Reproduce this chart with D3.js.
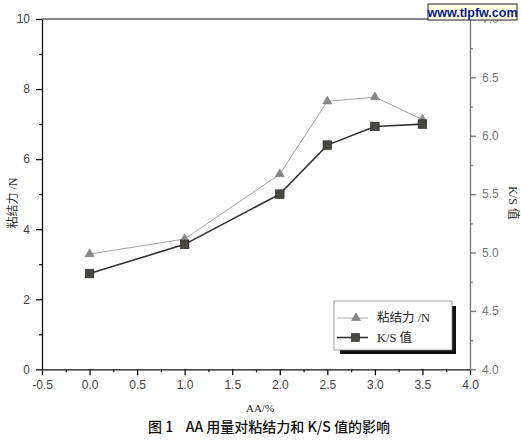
<!DOCTYPE html>
<html><head><meta charset="utf-8">
<script src="https://cdn.jsdelivr.net/npm/d3@7"></script>
<style>
html,body{margin:0;padding:0;background:#fff;}
svg{display:block;}
</style></head>
<body>
<svg id="c" width="521" height="444"></svg>
<script>
const AA = [0, 1, 2, 2.5, 3, 3.5];
const adhesion = [3.29, 3.72, 5.57, 7.65, 7.77, 7.13];
const ksValue = [4.82, 5.07, 5.50, 5.92, 6.08, 6.10];
const xTicks = [-0.5, 0, 0.5, 1, 1.5, 2, 2.5, 3, 3.5, 4];
const yLeftTicks = [0, 2, 4, 6, 8, 10];
const yRightTicks = [4.0, 4.5, 5.0, 5.5, 6.0, 6.5, 7.0];
const seriesNames = ["粘结力 /N", "K/S 值"];

const svg = d3.select("#c");
const L = 42, R = 470, T = 19, B = 369.3;
const x = d3.scaleLinear().domain([-0.5, 4]).range([L, R]);
const yL = d3.scaleLinear().domain([0, 10]).range([B, T]);
const yR = d3.scaleLinear().domain([4, 7]).range([B, T]);
const sans = "'Liberation Sans', Arial, sans-serif";
const serif = "'Liberation Serif', 'Noto Sans CJK SC', serif";
const fmt1 = d => d.toFixed(1);

// top frame line
svg.append("line").attr("x1", L).attr("x2", R).attr("y1", T).attr("y2", T)
  .attr("stroke", "#111").attr("stroke-width", 1.2);

function styleAxis(g, color, labelColor) {
  g.select(".domain").attr("stroke", color).attr("stroke-width", 1.3);
  g.selectAll(".tick line").attr("stroke", color).attr("stroke-width", 1.3);
  g.selectAll(".tick text").attr("fill", labelColor).attr("font-family", sans).attr("font-size", 12);
}

// bottom axis
const gx = svg.append("g").attr("transform", `translate(0,${B})`)
  .call(d3.axisBottom(x).tickValues(xTicks).tickFormat(fmt1).tickSize(6).tickSizeOuter(0).tickPadding(5));
styleAxis(gx, "#111", "#444");
svg.append("g").attr("transform", `translate(0,${B})`)
  .call(d3.axisBottom(x).tickValues(d3.range(-0.25, 4, 0.5)).tickFormat("").tickSize(3).tickSizeOuter(0))
  .call(g => { g.select(".domain").remove(); g.selectAll("line").attr("stroke", "#111").attr("stroke-width", 1.2); });

// left axis
const gyl = svg.append("g").attr("transform", `translate(${L},0)`)
  .call(d3.axisLeft(yL).tickValues(yLeftTicks).tickSize(6).tickSizeOuter(0).tickPadding(6));
styleAxis(gyl, "#111", "#444");
svg.append("g").attr("transform", `translate(${L},0)`)
  .call(d3.axisLeft(yL).tickValues([1, 3, 5, 7, 9]).tickFormat("").tickSize(3).tickSizeOuter(0))
  .call(g => { g.select(".domain").remove(); g.selectAll("line").attr("stroke", "#111").attr("stroke-width", 1.2); });

// right axis
const gyr = svg.append("g").attr("transform", `translate(${R},0)`)
  .call(d3.axisRight(yR).tickValues(yRightTicks).tickFormat(fmt1).tickSize(6).tickSizeOuter(0).tickPadding(6));
styleAxis(gyr, "#777", "#777");
svg.append("g").attr("transform", `translate(${R},0)`)
  .call(d3.axisRight(yR).tickValues([4.25, 4.75, 5.25, 5.75, 6.25, 6.75]).tickFormat("").tickSize(3).tickSizeOuter(0))
  .call(g => { g.select(".domain").remove(); g.selectAll("line").attr("stroke", "#777").attr("stroke-width", 1.2); });

// axis titles
svg.append("text").attr("transform", `translate(13,203) rotate(-90)`)
  .attr("text-anchor", "middle").attr("dominant-baseline", "central")
  .attr("font-family", serif).attr("font-size", 12).attr("fill", "#333").text("粘结力 /N");
svg.append("text").attr("transform", `translate(513,203) rotate(90)`)
  .attr("text-anchor", "middle").attr("dominant-baseline", "central")
  .attr("font-family", serif).attr("font-size", 12).attr("fill", "#333").text("K/S 值");
svg.append("text").attr("x", 260).attr("y", 412).attr("text-anchor", "middle")
  .attr("font-family", serif).attr("font-size", 11).attr("fill", "#222").text("AA/%");
svg.append("text").attr("x", 269).attr("y", 432).attr("text-anchor", "middle")
  .attr("font-family", "'Noto Sans CJK SC', sans-serif").attr("font-size", 14).attr("font-weight", 500)
  .attr("fill", "#111").attr("xml:space", "preserve").text("图 1    AA 用量对粘结力和 K/S 值的影响");

// series lines
const ptsA = AA.map((a, i) => [x(a), yL(adhesion[i])]);
const ptsK = AA.map((a, i) => [x(a), yR(ksValue[i])]);
svg.append("path").attr("d", d3.line()(ptsA)).attr("fill", "none").attr("stroke", "#999").attr("stroke-width", 0.9);
svg.append("path").attr("d", d3.line()(ptsK)).attr("fill", "none").attr("stroke", "#333").attr("stroke-width", 1.6);

const tri = d3.symbol().type(d3.symbolTriangle).size(36);
svg.selectAll(".tri").data(ptsA).join("path").attr("class", "tri")
  .attr("transform", d => `translate(${d[0]},${d[1]})`).attr("d", tri())
  .attr("fill", "#888").attr("stroke", "#777").attr("stroke-width", 0.5);
svg.selectAll(".sq").data(ptsK).join("rect").attr("class", "sq")
  .attr("x", d => d[0] - 4.3).attr("y", d => d[1] - 4.3).attr("width", 8.6).attr("height", 8.6)
  .attr("fill", "#4a4743").attr("stroke", "#222").attr("stroke-width", 0.6);

// legend
const lg = svg.append("g");
lg.append("rect").attr("x", 340).attr("y", 306).attr("width", 116).attr("height", 48).attr("fill", "#111");
lg.append("rect").attr("x", 334).attr("y", 301).attr("width", 118).attr("height", 49)
  .attr("fill", "#fff").attr("stroke", "#888").attr("stroke-width", 0.8);
const ly = [318, 337.5];
lg.append("line").attr("x1", 337).attr("x2", 368).attr("y1", ly[0]).attr("y2", ly[0]).attr("stroke", "#aaa").attr("stroke-width", 1);
lg.append("path").attr("transform", `translate(356,${ly[0]})`).attr("d", tri()).attr("fill", "#888").attr("stroke", "#777").attr("stroke-width", 0.5);
lg.append("line").attr("x1", 337).attr("x2", 368).attr("y1", ly[1]).attr("y2", ly[1]).attr("stroke", "#333").attr("stroke-width", 1.6);
lg.append("rect").attr("x", 351.5).attr("y", ly[1] - 4).attr("width", 8).attr("height", 8).attr("fill", "#4a4743").attr("stroke", "#222").attr("stroke-width", 0.6);
seriesNames.forEach((n, i) => {
  lg.append("text").attr("x", 377).attr("y", ly[i]).attr("dominant-baseline", "central")
    .attr("font-family", serif).attr("font-size", 12.5).attr("fill", "#222").text(n);
});

// watermark
svg.append("rect").attr("x", 428).attr("y", 4).attr("width", 89).attr("height", 16)
  .attr("fill", "#ffffe6").attr("stroke", "#222").attr("stroke-width", 1);
svg.append("text").attr("x", 472.5).attr("y", 12.5).attr("text-anchor", "middle").attr("dominant-baseline", "central")
  .attr("font-family", sans).attr("font-weight", "bold").attr("font-size", 12.5).attr("fill", "#0a1a8c").text("www.tlpfw.com");
</script>
</body></html>
